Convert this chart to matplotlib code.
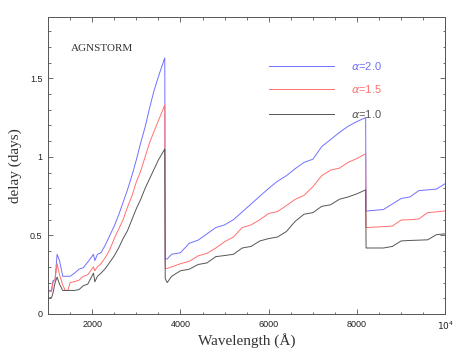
import matplotlib
matplotlib.use("Agg")

import matplotlib.pyplot as plt
from matplotlib.ticker import FixedLocator, MultipleLocator, FuncFormatter

# wavelength grid (Angstrom)
wavelength = [
    1000, 1080, 1110, 1160, 1206, 1260, 1333, 1390, 1450, 1500, 1600, 1700,
    1800, 1900, 2030, 2060, 2120, 2200, 2300, 2400, 2500, 2600, 2700, 2800,
    2900, 3000, 3100, 3200, 3300, 3400, 3500, 3645, 3655, 3700, 3800, 4000,
    4200, 4400, 4600, 4800, 5000, 5200, 5400, 5600, 5800, 6000, 6200, 6400,
    6600, 6800, 7000, 7200, 7400, 7600, 7800, 8000, 8195, 8205, 8400, 8600,
    8800, 9000, 9200, 9400, 9600, 9800, 10000,
]

delay_a20 = [
    0.15, 0.15, 0.21, 0.22, 0.38, 0.34, 0.24, 0.24, 0.24, 0.24, 0.26, 0.285,
    0.295, 0.33, 0.38, 0.34, 0.38, 0.39, 0.44, 0.50, 0.56, 0.63, 0.71, 0.79,
    0.88, 0.98, 1.09, 1.19, 1.31, 1.42, 1.51, 1.63, 0.35, 0.35, 0.38, 0.39,
    0.45, 0.47, 0.51, 0.55, 0.567, 0.60, 0.65, 0.70, 0.75, 0.80, 0.845, 0.88,
    0.925, 0.965, 0.985, 1.065, 1.11, 1.155, 1.195, 1.225, 1.25, 0.655, 0.66, 0.665,
    0.70, 0.735, 0.745, 0.785, 0.79, 0.795, 0.83,
]

delay_a15 = [
    0.14, 0.143, 0.20, 0.22, 0.32, 0.25, 0.185, 0.15, 0.15, 0.20, 0.206, 0.215,
    0.24, 0.25, 0.30, 0.275, 0.30, 0.32, 0.36, 0.41, 0.48, 0.54, 0.60, 0.68,
    0.75, 0.84, 0.91, 1.00, 1.09, 1.16, 1.23, 1.33, 0.29, 0.29, 0.30, 0.32,
    0.335, 0.37, 0.386, 0.42, 0.46, 0.49, 0.55, 0.567, 0.60, 0.64, 0.652, 0.69,
    0.73, 0.755, 0.81, 0.88, 0.915, 0.928, 0.965, 0.99, 1.02, 0.55, 0.553, 0.556,
    0.56, 0.598, 0.60, 0.605, 0.645, 0.65, 0.656,
]

delay_a10 = [
    0.10, 0.105, 0.13, 0.20, 0.235, 0.19, 0.15, 0.15, 0.15, 0.15, 0.15, 0.155,
    0.18, 0.19, 0.26, 0.205, 0.24, 0.26, 0.29, 0.33, 0.37, 0.42, 0.48, 0.53,
    0.60, 0.67, 0.73, 0.80, 0.86, 0.92, 0.98, 1.05, 0.225, 0.20, 0.24, 0.275,
    0.285, 0.315, 0.325, 0.365, 0.372, 0.38, 0.42, 0.43, 0.465, 0.48, 0.49, 0.525,
    0.59, 0.635, 0.645, 0.685, 0.695, 0.73, 0.745, 0.765, 0.79, 0.42, 0.42, 0.42,
    0.43, 0.465, 0.468, 0.47, 0.472, 0.505, 0.51,
]

series = [
    (delay_a20, "#7070ff", r"$\alpha$=2.0"),
    (delay_a15, "#ff7070", r"$\alpha$=1.5"),
    (delay_a10, "#555555", r"$\alpha$=1.0"),
]

fig = plt.figure(figsize=(4.74, 3.54), dpi=100)
ax = fig.add_axes([0.1013, 0.113, 0.8382, 0.839])

for values, color, label in series:
    ax.plot(wavelength, values, color=color, lw=0.7)

ax.set_xlim(1000, 10000)
ax.set_ylim(0, 1.89)

ax.xaxis.set_major_locator(FixedLocator([2000, 4000, 6000, 8000, 10000]))
ax.xaxis.set_minor_locator(MultipleLocator(500))
ax.xaxis.set_major_formatter(FuncFormatter(
    lambda v, p: r"$10^4$" if v == 10000 else f"{int(v)}"))
ax.yaxis.set_major_locator(FixedLocator([0, 0.5, 1.0, 1.5]))
ax.yaxis.set_minor_locator(MultipleLocator(0.1))
ax.yaxis.set_major_formatter(FuncFormatter(lambda v, p: f"{v:g}"))

ax.tick_params(which="both", direction="in", top=True, right=True,
               color="#555555", width=0.6)
ax.tick_params(which="major", length=3.6, labelsize=6.5, pad=4,
               labelcolor="#222222")
ax.tick_params(which="minor", length=1.8)
for sp in ax.spines.values():
    sp.set_color("#555555")
    sp.set_linewidth(0.7)

for lab in ax.get_xticklabels() + ax.get_yticklabels():
    lab.set_family("Liberation Sans")

ax.set_xlabel("Wavelength (Å)", family="Liberation Serif", fontsize=11,
              color="#333333", labelpad=1)
ax.set_ylabel("delay (days)", family="Liberation Serif", fontsize=11,
              color="#333333", labelpad=6)

ax.text(1507, 1.69, "AGNSTORM", family="Liberation Serif", fontsize=8,
        color="#333333", va="center", ha="left")

# legend drawn by hand at the top right
leg_y = [1.58, 1.43, 1.27]
for (values, color, label), y in zip(series, leg_y):
    ax.plot([6000, 7480], [y, y], color=color, lw=0.7)
    ax.text(7870, y, label, color=color, fontsize=8, va="center",
            family="Liberation Sans")

fig.savefig("out.png", dpi=100)
